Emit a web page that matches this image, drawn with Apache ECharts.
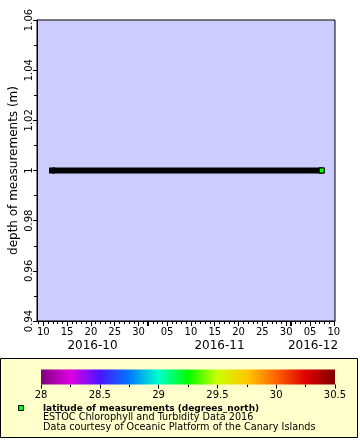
<!DOCTYPE html>
<html>
<head>
<meta charset="utf-8">
<script src="https://cdn.jsdelivr.net/npm/echarts@6/dist/echarts.min.js"></script>
<style>html,body{margin:0;padding:0;background:#fff}#c{width:360px;height:440px}</style>
</head>
<body>
<div id="c"></div>
<script>
// ---- data ----
const xRange = ['2016-10-08T16:20:00Z', '2016-12-10T06:00:00Z'];
const yRange = [0.94, 1.06];
const seriesTimes = ['2016-10-11T20:00:00Z', '2016-12-07T11:00:00Z'];
const seriesDepth = [1, 1];
const seriesLatitude = [29.25, 29.25];
const dayLabelDates = ['2016-10-10','2016-10-15','2016-10-20','2016-10-25','2016-10-30',
  '2016-11-05','2016-11-10','2016-11-15','2016-11-20','2016-11-25','2016-11-30',
  '2016-12-05','2016-12-10'];
const monthStarts = ['2016-10-01','2016-11-01','2016-12-01','2017-01-01'];
const colorRange = [28, 30.5];
const colorStops = ['#800080','#e000e0','#4a14ff','#0078ff','#00ffcc','#00ff00',
  '#ccff00','#ffc800','#ff6400','#e00000','#800000'];
const legendTitle = 'latitude of measurements (degrees_north)';
const legendLines = ['ESTOC Chlorophyll and Turbidity Data 2016',
  'Data courtesy of Oceanic Platform of the Canary Islands'];

// ---- helpers ----
const t = s => Date.parse(s.length === 10 ? s + 'T00:00:00Z' : s);
const xMin = t(xRange[0]), xMax = t(xRange[1]);
const DAY = 86400000;
const dailyTicks = [];
for (let v = Math.ceil(xMin / DAY) * DAY; v <= xMax; v += DAY) dailyTicks.push(v);
const labelVals = dayLabelDates.map(t);
const monthVals = monthStarts.map(t);
const monthTicks = monthVals.filter(v => v >= xMin && v <= xMax);
const monthMids = [];
for (let i = 0; i < monthVals.length - 1; i++) {
  const a = Math.max(monthVals[i], xMin), b = Math.min(monthVals[i + 1], xMax);
  if (b > a) monthMids.push((a + b) / 2);
}
const pad2 = n => String(n).padStart(2, '0');
const FONT = 'DejaVu Sans';

const lineData = seriesTimes.map((s, i) => [t(s), seriesDepth[i], seriesLatitude[i]]);
const lastPoint = [lineData[lineData.length - 1]];

const grad = new echarts.graphic.LinearGradient(0, 0, 1, 0,
  colorStops.map((c, i) => ({offset: i / (colorStops.length - 1), color: c})));

const baseX = {
  type: 'value', gridIndex: 0, min: xMin, max: xMax, position: 'bottom', offset: 0,
  splitLine: {show: false}, axisLine: {show: false}
};

const chart = echarts.init(document.getElementById('c'), null, {renderer: 'canvas'});
chart.setOption({
  animation: false,
  backgroundColor: '#ffffff',
  textStyle: {fontFamily: FONT, color: '#000'},
  grid: [
    {left: 37, top: 20, width: 298, height: 301, show: true, backgroundColor: '#ccccff',
     borderColor: '#000', borderWidth: 1, containLabel: false, outerBoundsMode: 'none'},
    {left: 41, top: 369.5, width: 294, height: 15, show: false, containLabel: false, outerBoundsMode: 'none'}
  ],
  xAxis: [
    Object.assign({}, baseX, {
      axisLine: {show: true, lineStyle: {color: '#000', width: 1}},
      axisTick: {show: true, customValues: dailyTicks, length: 3, lineStyle: {color: '#000'}},
      axisLabel: {show: false}
    }),
    Object.assign({}, baseX, {
      axisTick: {show: true, customValues: labelVals, length: 5, lineStyle: {color: '#000'}},
      axisLabel: {show: true, customValues: labelVals, fontSize: 10, margin: 6, color: '#000',
        fontFamily: FONT, formatter: v => pad2(new Date(v).getUTCDate())}
    }),
    Object.assign({}, baseX, {
      axisTick: {show: true, customValues: monthTicks, length: 5, lineStyle: {color: '#000', width: 2}},
      axisLabel: {show: true, customValues: monthMids, fontSize: 12, margin: 19, color: '#000',
        fontFamily: FONT,
        formatter: v => { const d = new Date(v); return d.getUTCFullYear() + '-' + pad2(d.getUTCMonth() + 1); }}
    }),
    {
      type: 'value', gridIndex: 1, min: colorRange[0], max: colorRange[1], interval: 0.5,
      position: 'bottom', splitLine: {show: false}, axisLine: {show: false},
      axisTick: {show: true, length: 4, lineStyle: {color: '#000'}},
      minorTick: {show: true, splitNumber: 2, length: 2.5, lineStyle: {color: '#000'}},
      axisLabel: {fontSize: 10, margin: 6, color: '#000', fontFamily: FONT,
        showMinLabel: true, showMaxLabel: true}
    }
  ],
  yAxis: [
    {
      type: 'value', gridIndex: 0, min: yRange[0], max: yRange[1], interval: 0.02,
      name: 'depth of measurements (m)', nameLocation: 'middle', nameGap: 17, nameRotate: 90,
      nameMoveOverlap: false,
      nameTextStyle: {fontSize: 12, color: '#000', fontFamily: FONT},
      splitLine: {show: false},
      axisLine: {show: true, lineStyle: {color: '#000'}},
      axisTick: {show: true, length: 4, lineStyle: {color: '#000'}},
      minorTick: {show: true, splitNumber: 2, length: 3, lineStyle: {color: '#000'}},
      axisLabel: {rotate: 90, fontSize: 10, margin: 3, color: '#000', fontFamily: FONT,
        showMinLabel: true, showMaxLabel: true}
    },
    {type: 'value', gridIndex: 1, min: 0, max: 1, show: false}
  ],
  visualMap: [{
    show: false, type: 'continuous', seriesIndex: 1, dimension: 2,
    min: colorRange[0], max: colorRange[1], inRange: {color: colorStops}
  }],
  graphic: [
    {type: 'rect', z: -10, shape: {x: 0.5, y: 358.5, width: 357, height: 79},
     style: {fill: '#ffffcc', stroke: '#000', lineWidth: 1}},
    {type: 'rect', z: 10, shape: {x: 18.5, y: 405.5, width: 5, height: 5},
     style: {fill: colorStops[5], stroke: '#000', lineWidth: 1}},
    {type: 'text', z: 10, x: 43, y: 408.5,
     style: {text: legendTitle, font: 'bold 9px "DejaVu Sans"', fill: '#000', verticalAlign: 'middle'}},
    {type: 'text', z: 10, x: 43, y: 417.8,
     style: {text: legendLines[0], font: '9.7px "DejaVu Sans"', fill: '#000', verticalAlign: 'middle'}},
    {type: 'text', z: 10, x: 43, y: 427,
     style: {text: legendLines[1], font: '9.7px "DejaVu Sans"', fill: '#000', verticalAlign: 'middle'}}
  ],
  series: [
    {
      type: 'line', xAxisIndex: 0, yAxisIndex: 0, data: lineData,
      symbol: 'rect', symbolSize: 6, showSymbol: true,
      itemStyle: {color: '#000'}, lineStyle: {color: '#000', width: 6}, z: 3
    },
    {
      type: 'scatter', xAxisIndex: 0, yAxisIndex: 0, data: lastPoint,
      symbol: 'rect', symbolSize: 5,
      itemStyle: {borderColor: '#000', borderWidth: 1, opacity: 1}, z: 4
    },
    {
      type: 'custom', xAxisIndex: 3, yAxisIndex: 1, data: [[colorRange[0], colorRange[1]]],
      renderItem: (params, api) => {
        const p0 = api.coord([api.value(0), 1]);
        const p1 = api.coord([api.value(1), 0]);
        return {type: 'rect', shape: {x: p0[0], y: p0[1], width: p1[0] - p0[0], height: p1[1] - p0[1]},
          style: {fill: grad}};
      },
      z: 5
    }
  ]
});
</script>
</body>
</html>
